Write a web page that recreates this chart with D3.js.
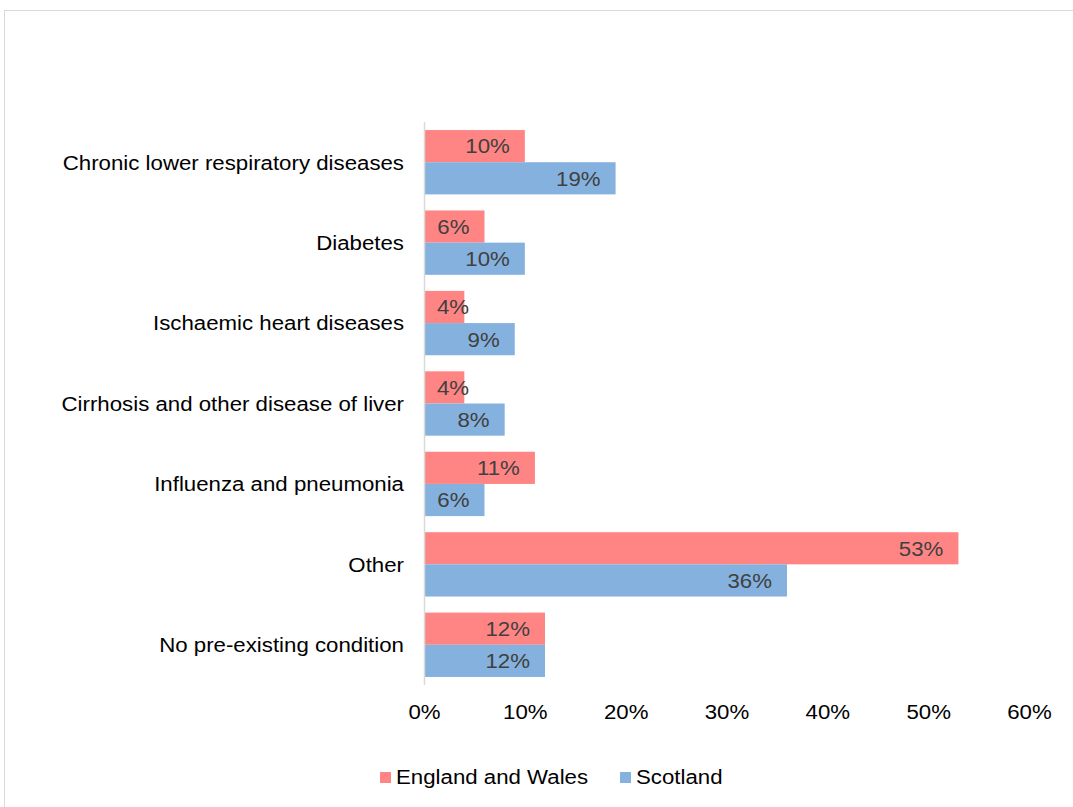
<!DOCTYPE html>
<html>
<head>
<meta charset="utf-8">
<script src="https://cdn.jsdelivr.net/npm/d3@7"></script>
<style>
  html, body { margin: 0; padding: 0; background: #fff; }
  svg { display: block; font-family: "Liberation Sans", Arial, sans-serif; }
</style>
</head>
<body>
<svg id="chart" width="1073" height="807"></svg>
<script>
// Pre-existing conditions among deaths, by nation
const categories = [
  "Chronic lower respiratory diseases",
  "Diabetes",
  "Ischaemic heart diseases",
  "Cirrhosis and other disease of liver",
  "Influenza and pneumonia",
  "Other",
  "No pre-existing condition"
];
const seriesNames = ["England and Wales", "Scotland"];
const englandWales = [10, 6, 4, 4, 11, 53, 12];
const scotland = [19, 10, 9, 8, 6, 36, 12];
const tickValues = [0, 10, 20, 30, 40, 50, 60];
const colors = ["#ff8585", "#85b1de"];

const FS = 21;       // text size
const SX = 1.06;     // horizontal text stretch

const svg = d3.select("#chart");

// outer chart frame
svg.append("rect")
  .attr("x", 4.5).attr("y", 10.5)
  .attr("width", 1080).attr("height", 810)
  .attr("fill", "#fff").attr("stroke", "#d9d9d9").attr("stroke-width", 1);

const plot = { left: 424, right: 1029, top: 122, bottom: 685 };

const x = d3.scaleLinear().domain([0, 60]).range([plot.left, plot.right]);
const y = d3.scaleBand().domain(categories)
  .range([plot.top, plot.bottom]).paddingInner(0.2).paddingOuter(0.1);
const ySub = d3.scaleBand().domain(seriesNames).range([0, y.bandwidth()]);

const rows = categories.map((c, i) => ({
  cat: c,
  vals: [
    { s: seriesNames[0], v: englandWales[i] },
    { s: seriesNames[1], v: scotland[i] }
  ]
}));

const groups = svg.append("g").selectAll("g")
  .data(rows).join("g")
  .attr("transform", d => `translate(0,${y(d.cat)})`);

groups.selectAll("rect")
  .data(d => d.vals).join("rect")
  .attr("x", x(0))
  .attr("y", d => ySub(d.s))
  .attr("width", d => x(d.v) - x(0))
  .attr("height", ySub.bandwidth())
  .attr("fill", (d, i) => colors[i]);

// value labels at the inside end of each bar
groups.selectAll("text.val")
  .data(d => d.vals).join("text")
  .attr("class", "val")
  .attr("dy", "0.35em")
  .attr("font-size", FS)
  .attr("fill", "#404040")
  .attr("text-anchor", "start")
  .text(d => d.v + "%")
  .each(function(d) {
    const w = this.getComputedTextLength() * SX;
    const start = Math.max(x(d.v) - 15 - w, x(0) + 13);
    const cy = ySub(d.s) + ySub.bandwidth() / 2;
    d3.select(this).attr("transform", `translate(${start},${cy}) scale(${SX},1)`);
  });

// category axis line
svg.append("line")
  .attr("x1", x(0) + 0.5).attr("x2", x(0) + 0.5)
  .attr("y1", plot.top).attr("y2", plot.bottom)
  .attr("stroke", "#d9d9d9").attr("stroke-width", 1.5);

// category labels
svg.append("g").selectAll("text")
  .data(categories).join("text")
  .attr("transform", d => `translate(${x(0) - 20},${y(d) + y.bandwidth() / 2}) scale(${SX},1)`)
  .attr("dy", "0.35em")
  .attr("text-anchor", "end")
  .attr("font-size", FS)
  .attr("fill", "#000")
  .text(d => d);

// value axis tick labels
const xAxis = d3.axisBottom(x).tickValues(tickValues)
  .tickFormat(d => d + "%").tickSize(0).tickPadding(0);
const ax = svg.append("g").attr("transform", `translate(0,${plot.bottom + 19})`).call(xAxis);
ax.select(".domain").remove();
ax.selectAll("text")
  .attr("font-size", FS)
  .attr("font-family", "Liberation Sans, Arial, sans-serif")
  .attr("fill", "#000")
  .attr("dy", "0.71em")
  .attr("transform", `scale(${SX},1)`);

// legend
const legend = svg.append("g").attr("transform", "translate(380,777)");
const legendX = [0, 240];
seriesNames.forEach((name, i) => {
  const g = legend.append("g").attr("transform", `translate(${legendX[i]},0)`);
  g.append("rect").attr("x", 0).attr("y", -5).attr("width", 11).attr("height", 11)
    .attr("fill", colors[i]);
  g.append("text").attr("transform", `translate(16,0) scale(${SX},1)`).attr("dy", "0.35em")
    .attr("font-size", FS).attr("fill", "#000").text(name);
});
</script>
</body>
</html>
